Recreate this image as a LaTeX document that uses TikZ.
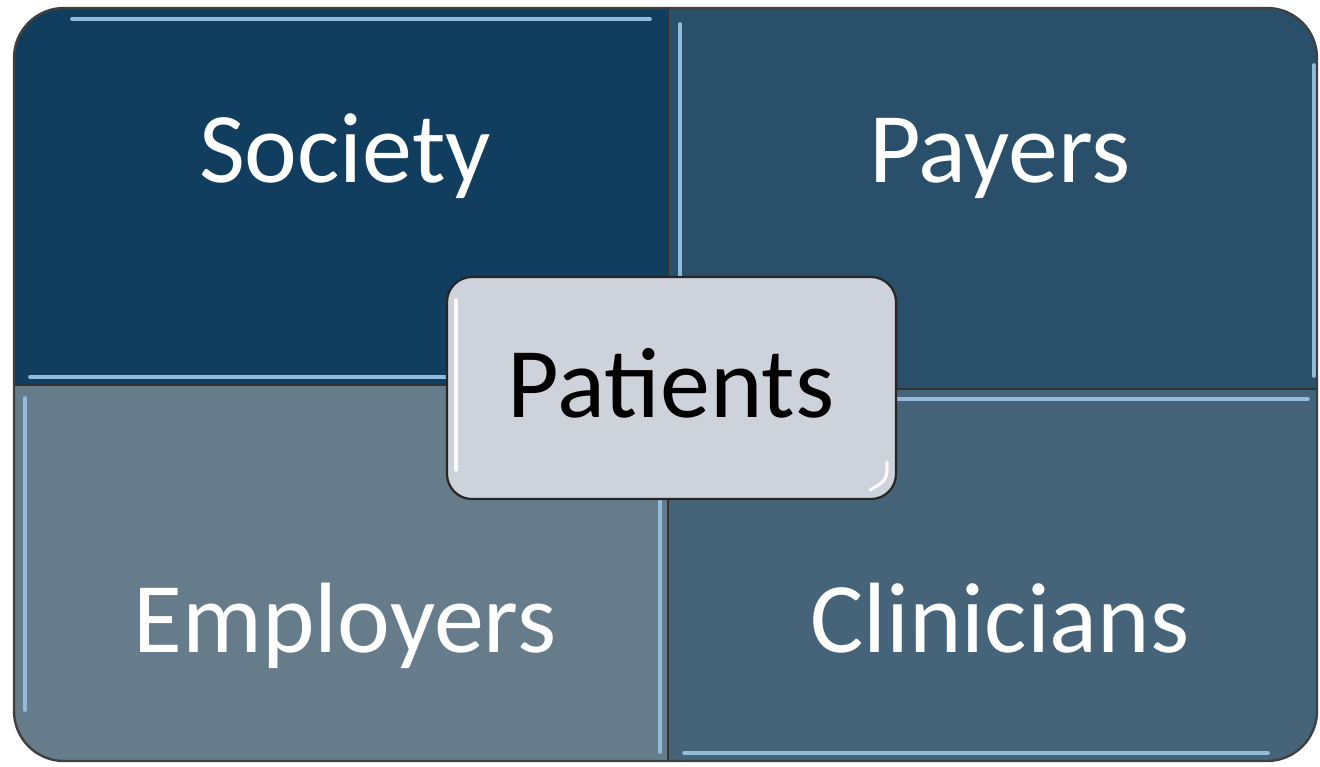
\documentclass[tikz,border=0pt]{standalone}
\usepackage{fontspec}
\setmainfont{Carlito}
\begin{document}
\begin{tikzpicture}[x=0.5pt,y=-0.5pt,
  sep/.style={draw=black!80,line width=1.2pt},
  gloss/.style={draw=hl,line width=1.8pt,line cap=round},
  label/.style={anchor=base,text=white,font=\fontsize{50}{60}\selectfont},
  hub/.style={draw=black!85,line width=1.1pt,fill=hubfill,rounded corners=12.5pt,
    minimum width=224.5pt,minimum height=111pt,inner sep=0pt},
  shine/.style={draw=white,line width=1.6pt,line cap=round,opacity=0.9}
]
\definecolor{cSociety}{HTML}{113D5E}
\definecolor{cPayers}{HTML}{2A4F6A}
\definecolor{cEmployers}{HTML}{677C8B}
\definecolor{cClinicians}{HTML}{466479}
\definecolor{hl}{HTML}{93BCDC}
\definecolor{hubfill}{HTML}{CED2DA}
\useasboundingbox (0,0) rectangle (1320,766);

% quadrant fills clipped to the rounded frame
\begin{scope}
  \clip[rounded corners=25pt] (14,8) rectangle (1317,761);
  \fill[cSociety]    (14,8)    rectangle (668,385);
  \fill[cPayers]     (668,8)   rectangle (1317,389);
  \fill[cEmployers]  (14,385)  rectangle (668,761);
  \fill[cClinicians] (668,389) rectangle (1317,761);
  % bevel highlights
  \draw[gloss] (72,19) -- (650,19);
  \draw[gloss] (30,377) -- (655,377);
  \draw[gloss] (680,24) -- (680,378);
  \draw[gloss] (1314,65) -- (1314,376);
  \draw[gloss] (25,398) -- (25,710);
  \draw[gloss] (660,396) -- (660,752);
  \draw[gloss] (682,399) -- (1308,399);
  \draw[gloss] (684,753) -- (1268,753);
\end{scope}

% separators and outer frame
\draw[sep] (668,8) -- (668,761);
\draw[sep] (14,385) -- (668,385);
\draw[sep] (668,389) -- (1317,389);
\draw[draw=black!75,line width=1.2pt,rounded corners=25pt] (14,8) rectangle (1317,761);

% quadrant labels
\node[label] (society)    at (345,182) {Society};
\node[label] (payers)     at (1000,182) {Payers};
\node[label] (employers)  at (345,652) {Employers};
\node[label] (clinicians) at (1000,652) {Clinicians};

% central hub
\node[hub] (hub) at (671.5,388) {};
\draw[shine] (456,300) -- (456,470);
\draw[shine] (887,462) .. controls (887,480) .. (870,490);
\node[anchor=base,text=black,font=\fontsize{50}{60}\selectfont] (patients) at (671,417) {Patients};
\end{tikzpicture}
\end{document}
